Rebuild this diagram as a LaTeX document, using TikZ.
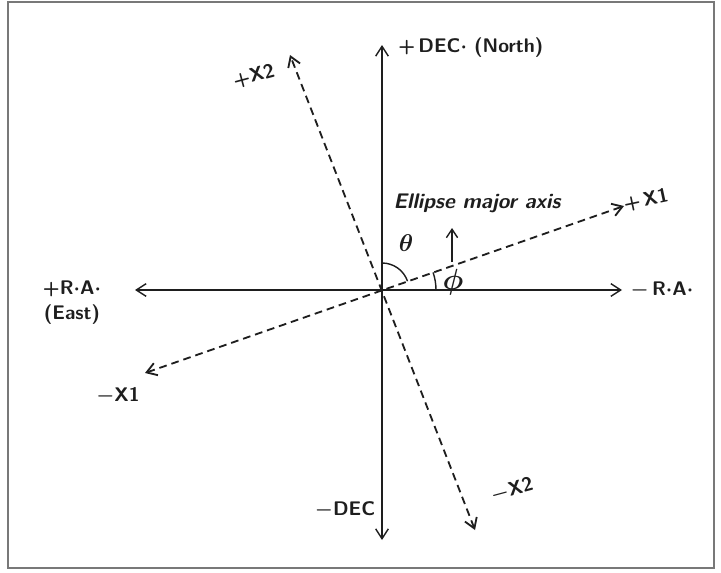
\documentclass[tikz,border=0pt]{standalone}
\definecolor{framegray}{RGB}{120, 120, 120}
\definecolor{inkblack}{RGB}{30, 30, 30}
\usepackage{tikz}
\usetikzlibrary{arrows.meta, positioning}
\usepackage{amsmath, amssymb}

\tikzset{
  axisline/.style={draw=inkblack, line width=1pt, {Straight Barb[length=7pt, width=9pt]}-{Straight Barb[length=7pt, width=9pt]}},
  rotline/.style={axisline, dash pattern=on 5.5pt off 3.5pt, line width=1.3pt},
  hand/.style={font=\sffamily\bfseries\fontsize{14}{16}\selectfont, text=inkblack, inner sep=0pt},
}

\begin{document}
\begin{tikzpicture}[x=0.025cm, y=-0.025cm]
  \useasboundingbox (0,0) rectangle (721,572);
  \draw[framegray, line width=1pt] (8,2) rectangle (714,568);

  % axes
  \coordinate (O) at (382,290);
  \coordinate (decN) at (382,45);
  \coordinate (decS) at (382,540);
  \coordinate (raE) at (135,290);
  \coordinate (raW) at (622,290);
  \draw[axisline] (raE) -- (raW);
  \draw[axisline] (decS) -- (decN);

  % rotated frame
  \coordinate (xonep) at (624,206);
  \coordinate (xonem) at (145,373);
  \coordinate (xtwop) at (290,55);
  \coordinate (xtwom) at (475,530);
  \draw[rotline] (xonem) -- (xonep);
  \draw[rotline] (xtwom) -- (xtwop);

  % angles
  \draw[inkblack, line width=1pt] (382,263) arc[start angle=-90, end angle=-19, radius=27];
  \draw[inkblack, line width=1pt] (436,290) arc[start angle=0, end angle=-19, radius=54];
  \coordinate (majlow) at (452,262);
  \coordinate (majup) at (452,228);
  \draw[inkblack, line width=1pt, -{Straight Barb[length=6pt, width=8pt]}] (majlow) -- (majup);

  % labels
  \node[hand, anchor=west] (lblN) at (398,48) {+\,DEC$\boldsymbol{\cdot}$ (North)};
  \node[hand] (lblS) at (345,510) {$\boldsymbol{-}$DEC};
  \node[hand] (lblE) at (72,289) {+R$\boldsymbol{\cdot}$A$\boldsymbol{\cdot}$};
  \node[hand, below=5pt of lblE] (lblEast) {(East)};
  \node[hand] (lblW) at (662,290) {$\boldsymbol{-}$\,R$\boldsymbol{\cdot}$A$\boldsymbol{\cdot}$};
  \node[hand, rotate=12] (lblXonep) at (646,200) {+\,X1};
  \node[hand] (lblXonem) at (118,396) {$\boldsymbol{-}$X1};
  \node[hand, rotate=15] (lblXtwop) at (254,76) {+X2};
  \node[hand, rotate=15] (lblXtwom) at (512,490) {$\boldsymbol{-}$X2};
  \node[hand, font=\sffamily\bfseries\itshape\fontsize{15}{17}\selectfont] (lblMajor) at (477,203) {Ellipse major axis};
  \node[hand, font=\fontsize{19}{21}\selectfont] (lblTheta) at (406,243) {$\boldsymbol{\theta}$};
  \node[hand, font=\fontsize{20}{22}\selectfont] (lblPhi) at (453,282) {$\boldsymbol{\phi}$};
\end{tikzpicture}
\end{document}
